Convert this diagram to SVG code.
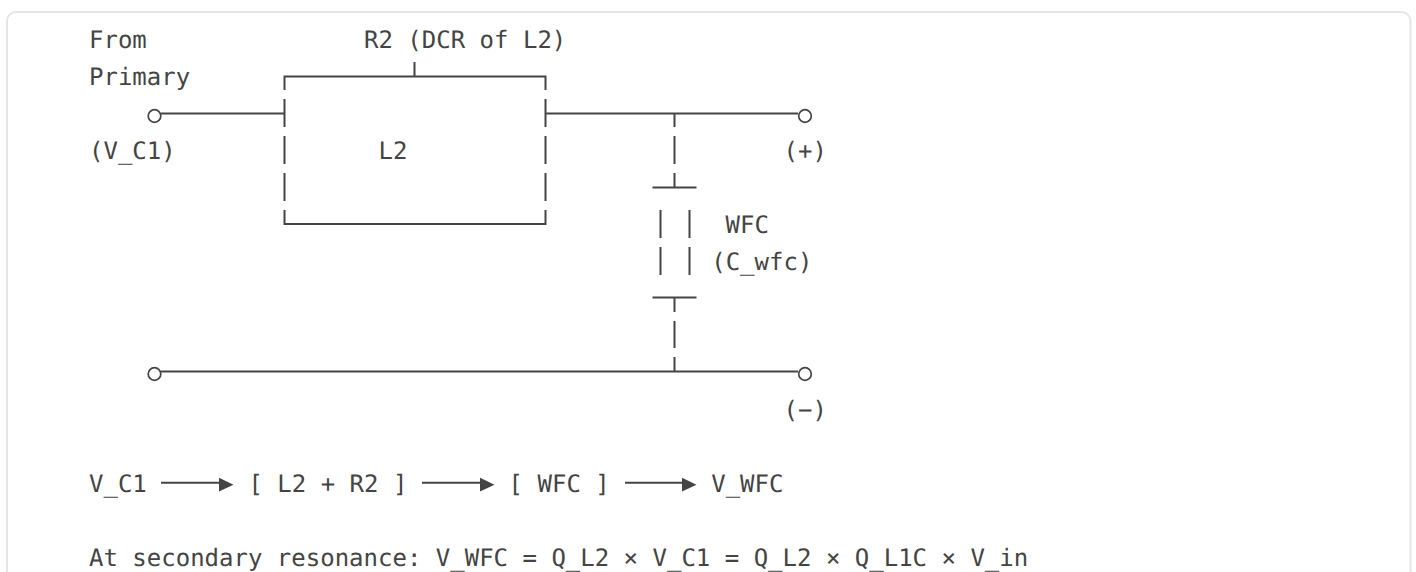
<svg xmlns="http://www.w3.org/2000/svg" width="1416" height="572" viewBox="0 0 1416 572">
<style>
text{font-family:"DejaVu Sans Mono",monospace;font-size:24px;fill:#444;text-rendering:geometricPrecision}
.w{fill:none;stroke:#444;stroke-width:2}
.t{fill:#fff;stroke:#444;stroke-width:1.7}
.a{fill:#444;stroke:none}
</style>
<rect width="1416" height="572" fill="#fff"/>
<rect id="card" x="7" y="12" width="1403.500" height="600" rx="9" fill="#fff" stroke="#e5e5e5" stroke-width="2"/>
<g id="connectors">
<path class="w" d="M284.500 90V76.500H545.500V90M414.500 62V76.500"/>
<path class="w" d="M284.500 99V127M284.500 136V164M284.500 173V201M284.500 210V224H545.500V210M545.500 99V127M545.500 136V164M545.500 173V201"/>
<path class="w" d="M161 113.500H284.500M545.500 113.500H798"/>
<path class="w" d="M674.500 113.500V127M674.500 136V164M674.500 173V187.500"/>
<path class="w" d="M652.500 187.500H696.500M660.500 210V238M689.500 210V238M660.500 247V275M689.500 247V275M652.500 297.500H696.500"/>
<path class="w" d="M674.500 297.500V312M674.500 321V348M674.500 357V371.500"/>
<path class="w" d="M161 371.500H798"/>
<path class="w" d="M161 482.700H220M422 482.700H481M625 482.700H684"/>
<polygon class="a" points="219,477.800 233.500,484.700 219,491.600"/>
<polygon class="a" points="480,477.800 494.500,484.700 480,491.600"/>
<polygon class="a" points="682,477.800 696.500,484.700 682,491.600"/>
</g>
<g id="terminal-primary-top"><circle class="t" cx="154.500" cy="116" r="6.300"/></g>
<g id="terminal-plus"><circle class="t" cx="805" cy="116" r="6.300"/></g>
<g id="terminal-primary-bottom"><circle class="t" cx="154.500" cy="374" r="6.300"/></g>
<g id="terminal-minus"><circle class="t" cx="805" cy="374" r="6.300"/></g>
<g id="source-labels">
<text x="89" y="48">From</text>
<text x="89" y="85">Primary</text>
<text x="89" y="159">(V_C1)</text>
</g>
<g id="r2-label"><text x="364" y="48">R2 (DCR of L2)</text></g>
<g id="l2-box"><text x="378.500" y="159">L2</text></g>
<g id="plus-label"><text x="783.500" y="159">(+)</text></g>
<g id="wfc">
<text x="725.600" y="233">WFC</text>
<text x="711.200" y="270">(C_wfc)</text>
</g>
<g id="minus-label"><text x="783.500" y="418">(−)</text></g>
<g id="flow">
<text x="89" y="492">V_C1</text>
<text x="248.400" y="492">[ L2 + R2 ]</text>
<text x="508.600" y="492">[ WFC ]</text>
<text x="711.200" y="492">V_WFC</text>
</g>
<g id="equation"><text x="89" y="566">At secondary resonance: V_WFC = Q_L2 × V_C1 = Q_L2 × Q_L1C × V_in</text></g>
</svg>
